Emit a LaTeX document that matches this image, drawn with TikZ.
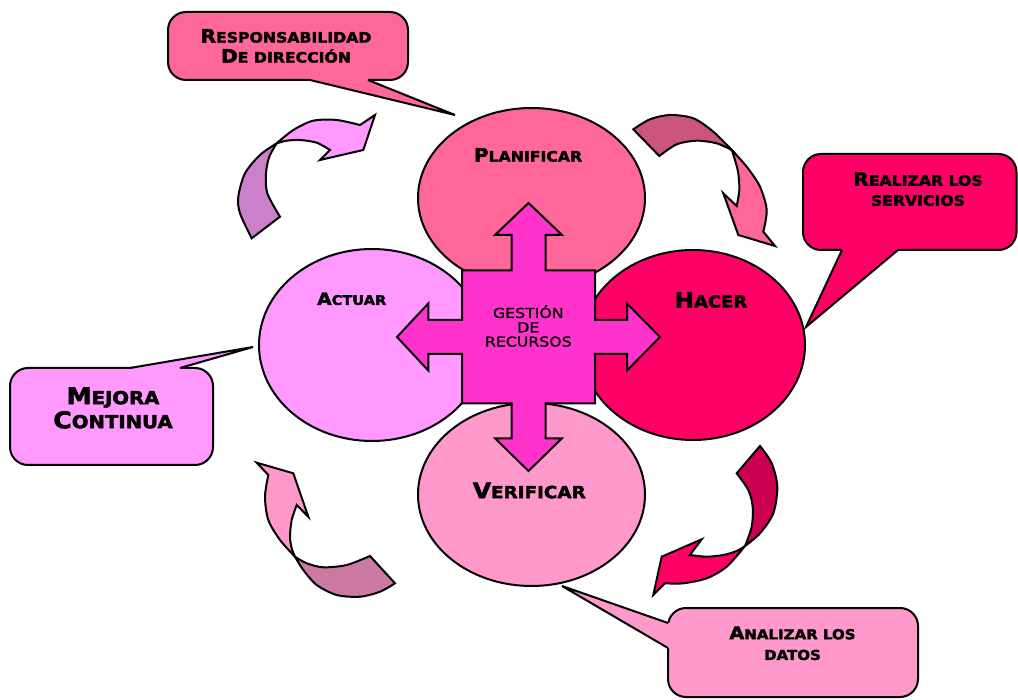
\documentclass[tikz,border=0pt]{standalone}
\usepackage{fontspec}
\usepackage{graphicx}
\usetikzlibrary{shapes.geometric}
\newfontfamily\cpfont[FakeStretch=1.1,BoldFeatures={FakeBold=2.5}]{DejaVu Sans}
\newfontfamily\gfont[FakeStretch=1.15,FakeBold=1.2]{DejaVu Sans}
\newcommand\Smc[1]{\scalebox{0.78}{#1}}
\definecolor{cPL}{HTML}{FF6699}
\definecolor{cHA}{HTML}{FF0066}
\definecolor{cAC}{HTML}{FF99FF}
\definecolor{cVE}{HTML}{FF99CC}
\definecolor{cCR}{HTML}{FF33CC}
\definecolor{dTL}{HTML}{CC80CC}
\definecolor{dTR}{HTML}{CC5580}
\definecolor{dBR}{HTML}{CC0052}
\definecolor{dBL}{HTML}{CC7AA3}
\begin{document}
\begin{tikzpicture}[x=1pt,y=1pt,line width=2pt,
  ell/.style={ellipse,draw=black,inner sep=0pt,outer sep=0pt},
  lbl/.style={inner sep=0pt,outer sep=0pt,align=center,text=black},
  bubble/.style={draw=black,rounded corners=18pt},
]
\useasboundingbox[fill=white] (0,0) rectangle (1018,-700);

% ---- ellipses
\node[ell,fill=cPL,minimum width=227pt,minimum height=180pt] (pl) at (531.5,-198) {};
\node[ell,fill=cAC,minimum width=226pt,minimum height=192pt] (ac) at (372,-345) {};
\node[ell,fill=cHA,minimum width=224pt,minimum height=190pt] (ha) at (693,-345) {};
\node[ell,fill=cVE,minimum width=227pt,minimum height=183pt] (ve) at (531.5,-494.5) {};

% ---- central cross
\filldraw[fill=cCR] (528.5,-203) -- (562,-235) -- (545.5,-235) -- (545.5,-270.5)
  -- (595,-270.5) -- (595,-320) -- (627,-320) -- (627,-303.5) -- (660,-337)
  -- (627,-370.5) -- (627,-354) -- (595,-354) -- (595,-403.5) -- (545.5,-403.5)
  -- (545.5,-438.3) -- (562,-438.3) -- (528.5,-471) -- (495,-438.3) -- (511.5,-438.3)
  -- (511.5,-403.5) -- (462,-403.5) -- (462,-354) -- (428.3,-354) -- (428.3,-370.5)
  -- (397,-337) -- (428.3,-303.5) -- (428.3,-320) -- (462,-320) -- (462,-270.5)
  -- (511.5,-270.5) -- (511.5,-235) -- (495,-235) -- cycle;

% ---- curved arrow top-left
\filldraw[fill=dTL] plot[smooth] coordinates {(251.7,-238.3) (240,-213.3) (238.3,-196.7) (245,-173.3) (260,-155) (276.7,-143.3)}
  -- plot[smooth] coordinates {(276.7,-143.3) (269.3,-156.7) (266,-173.3) (267.3,-193.3) (280,-216.7)} -- cycle;
\filldraw[fill=cAC] plot[smooth] coordinates {(276.7,-143.3) (293.3,-130) (313.3,-120.7) (336.7,-120) (360,-125)}
  -- (375,-115) -- (363.3,-150) -- (320,-160) -- (330,-150)
  -- plot[smooth] coordinates {(330,-150) (316.7,-142.7) (300,-140) (286.7,-140.7) (276.7,-143.3)} -- cycle;

% ---- curved arrow top-right
\filldraw[fill=dTR] plot[smooth] coordinates {(633.3,-129.3) (650,-119.3) (670,-115) (693.3,-118.3) (713.3,-131.7) (731.7,-150)}
  -- plot[smooth] coordinates {(731.7,-150) (716.7,-143.3) (696.7,-140.7) (676.7,-144.3) (659.3,-156)} -- cycle;
\filldraw[fill=cPL] plot[smooth] coordinates {(731.7,-150) (746.7,-166.7) (760,-186.7) (766.7,-210) (763.3,-231.7)}
  -- (775,-246) -- (738.3,-235) -- (723.3,-193.3) -- (736.7,-206)
  -- plot[smooth] coordinates {(736.7,-206) (739.3,-190) (738.3,-173.3) (735,-160) (731.7,-150)} -- cycle;

% ---- curved arrow bottom-right
\filldraw[fill=dBR] plot[smooth] coordinates {(760,-446) (771.7,-463.3) (777.3,-486.7) (773.3,-513.3) (760,-533.3) (745,-546)}
  -- plot[smooth] coordinates {(745,-546) (751.7,-526.7) (752.7,-506.7) (748.3,-490) (736.7,-473.3)} -- cycle;
\filldraw[fill=cHA] plot[smooth] coordinates {(745,-546) (726.7,-566.7) (706.7,-578.3) (683.3,-583.3) (665,-583.3)}
  -- (653.3,-595) -- (661.7,-556.7) -- (701.7,-539.3) -- (690,-555)
  -- plot[smooth] coordinates {(690,-555) (706.7,-556.7) (723.3,-555) (736.7,-551) (745,-546)} -- cycle;

% ---- curved arrow bottom-left
\filldraw[fill=dBL] plot[smooth] coordinates {(295,-556.7) (306.7,-563.3) (323.3,-567.3) (346.7,-565) (370,-556)}
  -- plot[smooth] coordinates {(395,-583.3) (380,-591.7) (360,-596.7) (336.7,-595) (316.7,-585) (303.3,-570) (295,-556.7)} -- cycle;
\filldraw[fill=cVE] plot[smooth] coordinates {(295,-556.7) (280,-540) (268.3,-520) (265,-496.7) (268.3,-475)}
  -- (256.7,-462.7) -- (293.3,-473.3) -- (308.3,-516.7) -- (296.7,-505)
  -- plot[smooth] coordinates {(296.7,-505) (291.7,-520) (290,-536.7) (291.7,-548.3) (295,-556.7)} -- cycle;

% ---- callouts
\filldraw[bubble,fill=cPL] (168,-12) rectangle (408,-80);
\fill[cPL] (310,-75) -- (310,-80) -- (455,-115) -- (368,-80) -- (368,-75) -- cycle;
\draw (310,-80) -- (455,-115) -- (368,-80);

\filldraw[bubble,fill=cHA] (803,-154) rectangle (1016.5,-250);
\fill[cHA] (842,-245) -- (842,-250) -- (806,-327) -- (898,-250) -- (898,-245) -- cycle;
\draw (842,-250) -- (806,-327) -- (898,-250);

\filldraw[bubble,fill=cAC] (10,-368) rectangle (213,-465);
\fill[cAC] (130,-373) -- (130,-368) -- (253,-347) -- (180,-368) -- (180,-373) -- cycle;
\draw (130,-368) -- (253,-347) -- (180,-368);

\filldraw[bubble,fill=cVE] (668,-608) rectangle (918,-697);
\fill[cVE] (673,-623) -- (668,-623) -- (562,-586) -- (668,-648) -- (673,-648) -- cycle;
\draw (668,-623) -- (562,-586) -- (668,-648);

% ---- texts
\node[lbl,font=\fontsize{18.3}{20}\selectfont\cpfont\bfseries] (trd) at (286,-46) {R\Smc{ESPONSABILIDAD}\\D\Smc{E DIRECCIÓN}};
\node[lbl,font=\fontsize{18.3}{20}\selectfont\cpfont\bfseries] (trs) at (918,-189.2) {R\Smc{EALIZAR LOS}\\\Smc{SERVICIOS}};
\node[lbl,font=\fontsize{22.9}{24}\selectfont\cpfont\bfseries] (tmc) at (113,-408) {M\Smc{EJORA}\\C\Smc{ONTINUA}};
\node[lbl,font=\fontsize{17.5}{20.7}\selectfont\cpfont\bfseries] (tad) at (792.5,-643.3) {A\Smc{NALIZAR LOS}\\\Smc{DATOS}};

\node[lbl,font=\fontsize{18.3}{20}\selectfont\cpfont\bfseries] (tpl) at (528,-155) {P\Smc{LANIFICAR}};
\node[lbl,font=\fontsize{21}{22}\selectfont\cpfont\bfseries] (tha) at (711,-300) {H\Smc{ACER}};
\node[lbl,font=\fontsize{17}{20}\selectfont\cpfont\bfseries] (tac) at (351.7,-298.8) {A\Smc{CTUAR}};
\node[lbl,font=\fontsize{21.4}{22}\selectfont\cpfont\bfseries] (tve) at (529.3,-490.5) {V\Smc{ERIFICAR}};
\node[lbl,font=\fontsize{13.7}{14.3}\selectfont\gfont] (tgr) at (528.3,-326) {GESTIÓN\\DE\\RECURSOS};
\end{tikzpicture}
\end{document}
